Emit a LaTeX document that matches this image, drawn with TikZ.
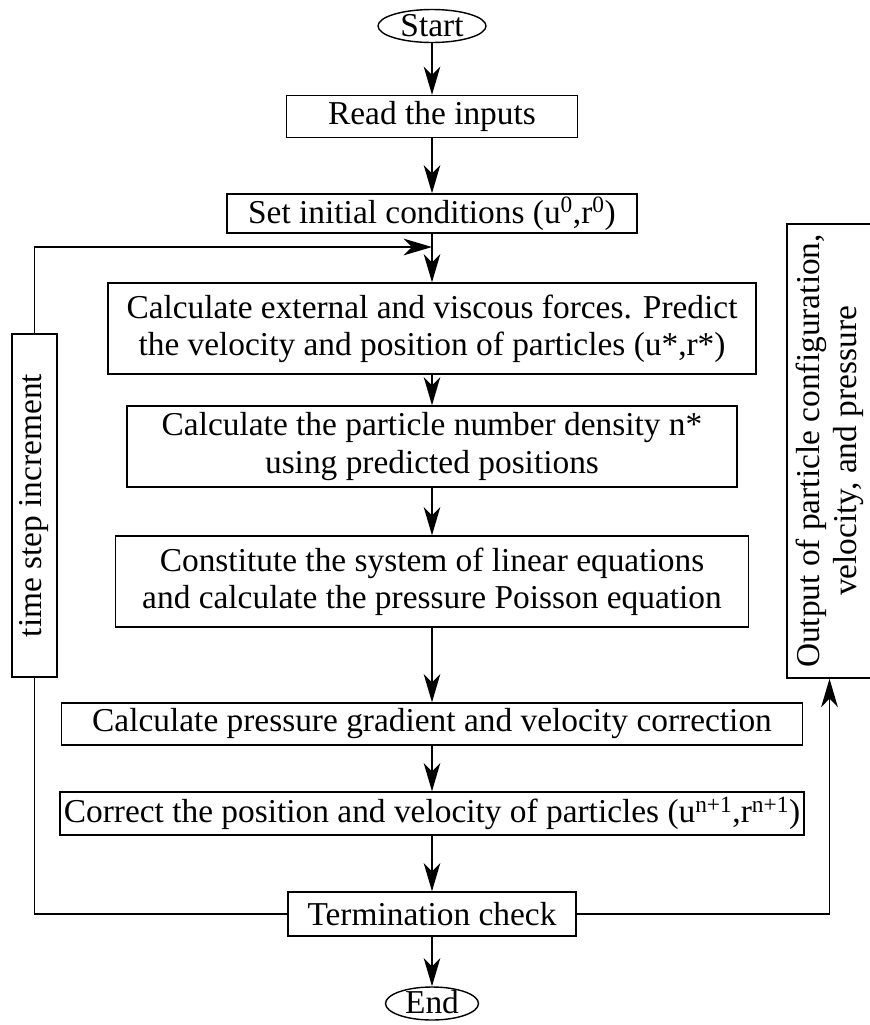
\documentclass[tikz,border=0pt]{standalone}
\usepackage{fontspec}
\setmainfont{Liberation Serif}
\usetikzlibrary{shapes, arrows.meta, positioning, calc}

\begin{document}
\begin{tikzpicture} [
    x=0.03cm, y=-0.03cm,
    font=\fontsize{28.5}{31.6}\selectfont,
    terminal/.style={ellipse, draw=black, line width=1.2pt, inner sep=0pt, text height=0.62cm, text depth=0cm, minimum width=3.24cm, minimum height=0.99cm, text centered},
    process/.style={rectangle, draw=black, line width=1.2pt, inner sep=0pt, minimum height=1.26cm, align=center},
    arrow/.style={-{Stealth[length=0.85cm, width=0.5cm, inset=0.25cm]}, line width=1.2pt},
    line/.style={line width=1.2pt}
]
\useasboundingbox (0,0) rectangle (870,1025);

% Define all nodes first
\node[terminal] (start) at (432,26) {Start};
\node[process, minimum width=8.73cm] (read) at (432,116.5) {Read the inputs};
\node[process, minimum width=12.3cm, minimum height=1.17cm] (init) at (432,213.5) {Set initial conditions (u\textsuperscript{0},r\textsuperscript{0})};
\node[process, minimum width=19.44cm, minimum height=2.73cm] (predict) at (432,328.5) {Calculate external and viscous forces. Predict\\the velocity and position of particles (u*,r*)};
\node[process, minimum width=18.3cm, minimum height=2.43cm] (density) at (432,446.5) {Calculate the particle number density n*\\using predicted positions};
\node[process, minimum width=18.99cm, minimum height=2.73cm] (poisson) at (432,581.5) {Constitute the system of linear equations\\and calculate the pressure Poisson equation};
\node[process, minimum width=22.23cm] (gradient) at (432,724) {Calculate pressure gradient and velocity correction};
\node[process, minimum width=22.32cm, minimum height=1.29cm] (correct) at (432,813.5) {Correct the position and velocity of particles (u\textsuperscript{n+1},r\textsuperscript{n+1})};
\node[process, minimum width=8.64cm, minimum height=1.32cm] (check) at (432,914) {Termination check};
\node[terminal, minimum width=2.79cm] (end) at (432,1003.5) {End};
\node[process, rotate=90, minimum width=10.29cm, minimum height=1.35cm] (increment) at (34.5,505.5) {time step increment};
\node[process, rotate=90, minimum width=13.62cm, minimum height=2.55cm] (output) at (829.5,451) {Output of particle configuration,\\velocity, and pressure};
\coordinate (merge) at (432,247);

% Draw all arrows
\draw[arrow] (start) -- (read);
\draw[arrow] (read) -- (init);
\draw[arrow] (init) -- (predict);
\draw[arrow] (predict) -- (density);
\draw[arrow] (density) -- (poisson);
\draw[arrow] (poisson) -- (gradient);
\draw[arrow] (gradient) -- (correct);
\draw[arrow] (correct) -- (check);
\draw[arrow] (check) -- (end);
\draw[line] (check) -| (increment);
\draw[arrow] (increment) |- (merge);
\draw[arrow] (check) -| (output);

\end{tikzpicture}
\end{document}
